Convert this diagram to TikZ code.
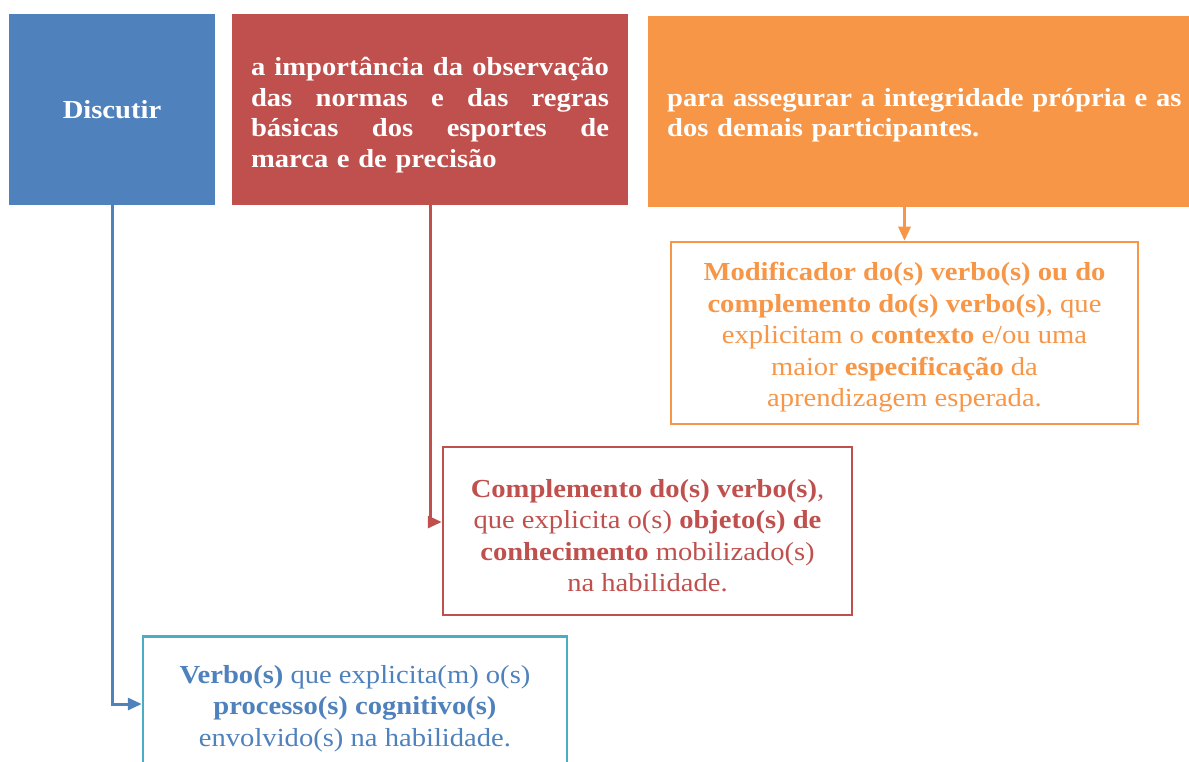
\documentclass[tikz,border=0pt]{standalone}
\usepackage{fontspec}
\setmainfont{Liberation Serif}[FakeStretch=1.1]
\usetikzlibrary{arrows.meta}
\definecolor{boxblue}{HTML}{4F81BD}
\definecolor{boxred}{HTML}{C0504D}
\definecolor{boxorange}{HTML}{F79646}
\definecolor{boxcyan}{HTML}{4BACC6}
\newcommand{\spreadline}[1]{\leavevmode\hbox to 358pt{#1}}
\begin{document}
\begin{tikzpicture}[x=1pt,y=-1pt,>={Triangle[length=14pt,width=12pt]}]
  \tikzset{
    fillbox/.style={fill=#1,text=white,inner sep=0pt,
      font=\bfseries\fontsize{26}{30.5}\selectfont},
    linebox/.style={draw=#1,line width=2.5pt,text=#1,fill=white,
      inner sep=0pt,align=center,font=\fontsize{26}{31.5}\selectfont},
    link/.style={draw=#1,line width=3pt,->},
  }
  \useasboundingbox (0,0) rectangle (1189,762);
  % Top row: the three parts of the skill.
  \node[fillbox=boxblue,minimum width=206,minimum height=191]
    (verb) at (112,109.5) {Discutir};
  \node[fillbox=boxred,minimum width=396,minimum height=191,
    text width=358,align=left] (obj) at (430,109.5)
    {\rule{0pt}{30pt}\spreadline{a\hfil importância\hfil da\hfil observação}\\
     \spreadline{das\hfil normas\hfil e\hfil das\hfil regras}\\
     \spreadline{básicas\hfil dos\hfil esportes\hfil de}\\
     marca e de precisão};
  \node[fillbox=boxorange,anchor=west,inner xsep=19pt,minimum height=191,
    text width=530,align=left] (ctx) at (648,111.5)
    {\rule{0pt}{26pt}para assegurar a integridade própria e as\\
     dos demais participantes.};
  % Notes explaining each part.
  \node[linebox=boxorange,minimum width=467,minimum height=182]
    (ctxnote) at (904.5,333)
    {\rule{0pt}{27pt}\textbf{Modificador do(s) verbo(s) ou do}\\
     \textbf{complemento do(s) verbo(s)}, que\\
     explicitam o \textbf{contexto} e/ou uma\\
     maior \textbf{especificação} da\\
     aprendizagem esperada.};
  \node[linebox=boxred,minimum width=409,minimum height=168]
    (objnote) at (647.5,531)
    {\rule{0pt}{27pt}\textbf{Complemento do(s) verbo(s)},\\
     que explicita o(s) \textbf{objeto(s) de}\\
     \textbf{conhecimento} mobilizado(s)\\
     na habilidade.};
  \node[linebox=boxcyan,text=boxblue,anchor=north,minimum width=424,
    inner ysep=20pt] (verbnote) at (355,635)
    {\rule{0pt}{27pt}\textbf{Verbo(s)} que explicita(m) o(s)\\
     \textbf{processo(s) cognitivo(s)}\\
     envolvido(s) na habilidade.};
  % Connectors.
  \draw[link=boxblue] (verb.south) |- (verbnote.west);
  \draw[link=boxred] (obj.south) |- ([yshift=9pt]objnote.west);
  \draw[link=boxorange] (ctx.south -| ctxnote.north) -- (ctxnote.north);
\end{tikzpicture}
\end{document}
